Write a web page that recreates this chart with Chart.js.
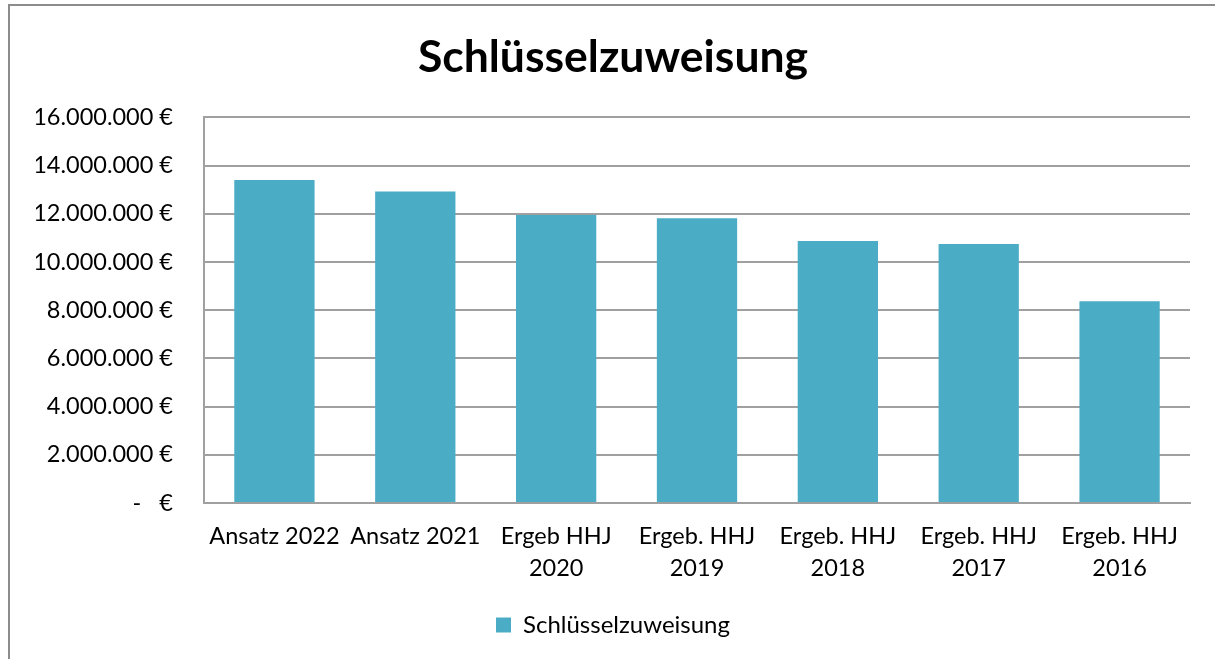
<!DOCTYPE html>
<html>
<head>
<meta charset="utf-8">
<script src="https://cdn.jsdelivr.net/npm/chart.js@4/dist/chart.umd.min.js"></script>
<style>
  body { margin: 0; background: #fff; overflow: hidden; }
  #frame { position: absolute; left: 8px; top: 4px; width: 1230px; height: 680px; border: 2px solid #8c8c8c; }
  #wrap { position: absolute; left: 0; top: 0; width: 1215px; height: 659px; }
</style>
</head>
<body>
<div id="frame"></div>
<div id="wrap"><canvas id="chart"></canvas></div>
<script>
// data
const categories = [
  ['Ansatz 2022'], ['Ansatz 2021'],
  ['Ergeb HHJ', '2020'], ['Ergeb. HHJ', '2019'], ['Ergeb. HHJ', '2018'],
  ['Ergeb. HHJ', '2017'], ['Ergeb. HHJ', '2016']
];
const seriesName = 'Schlüsselzuweisung';
const values = [13400000, 12930000, 11950000, 11820000, 10870000, 10750000, 8370000];

const FONT = 'Lato, "Open Sans", sans-serif';

function euro(v) {
  if (v === 0) return '-   €';
  return String(v).replace(/\B(?=(\d{3})+(?!\d))/g, '.') + ' €';
}

const ctx = document.getElementById('chart').getContext('2d');
new Chart(ctx, {
  type: 'bar',
  data: {
    labels: categories,
    datasets: [{
      label: seriesName,
      data: values,
      backgroundColor: '#4bacc6',
      borderWidth: 0,
      categoryPercentage: 1,
      barPercentage: 0.57
    }]
  },
  options: {
    responsive: true,
    maintainAspectRatio: false,
    animation: false,
    layout: { padding: { left: 36, right: 25, top: 0, bottom: 12 } },
    plugins: {
      title: {
        display: true,
        text: seriesName,
        color: '#000',
        font: { family: FONT, size: 44.5, weight: 'bold', lineHeight: 1.2 },
        padding: { top: 31, bottom: 33 }
      },
      legend: {
        position: 'bottom',
        labels: {
          color: '#000',
          font: { family: FONT, size: 24 },
          boxWidth: 15,
          boxHeight: 15,
          padding: 10
        }
      },
      tooltip: { enabled: false }
    },
    scales: {
      x: {
        grid: { display: false },
        border: { display: true, color: '#a0a0a0', width: 2 },
        ticks: {
          color: '#000',
          font: { family: FONT, size: 23.5, lineHeight: 1.362 },
          padding: 9,
          maxRotation: 0,
          autoSkip: false
        },
        afterFit: s => { s.height = 100; }
      },
      y: {
        min: 0,
        max: 16000000,
        grid: { color: '#a0a0a0', lineWidth: 2, drawTicks: false },
        border: { display: true, color: '#a0a0a0', width: 2 },
        ticks: {
          stepSize: 2000000,
          color: '#000',
          font: { family: FONT, size: 23.5 },
          padding: 31,
          callback: v => euro(v)
        },
        afterFit: s => { s.width = 168; }
      }
    }
  }
});
</script>
</body>
</html>
